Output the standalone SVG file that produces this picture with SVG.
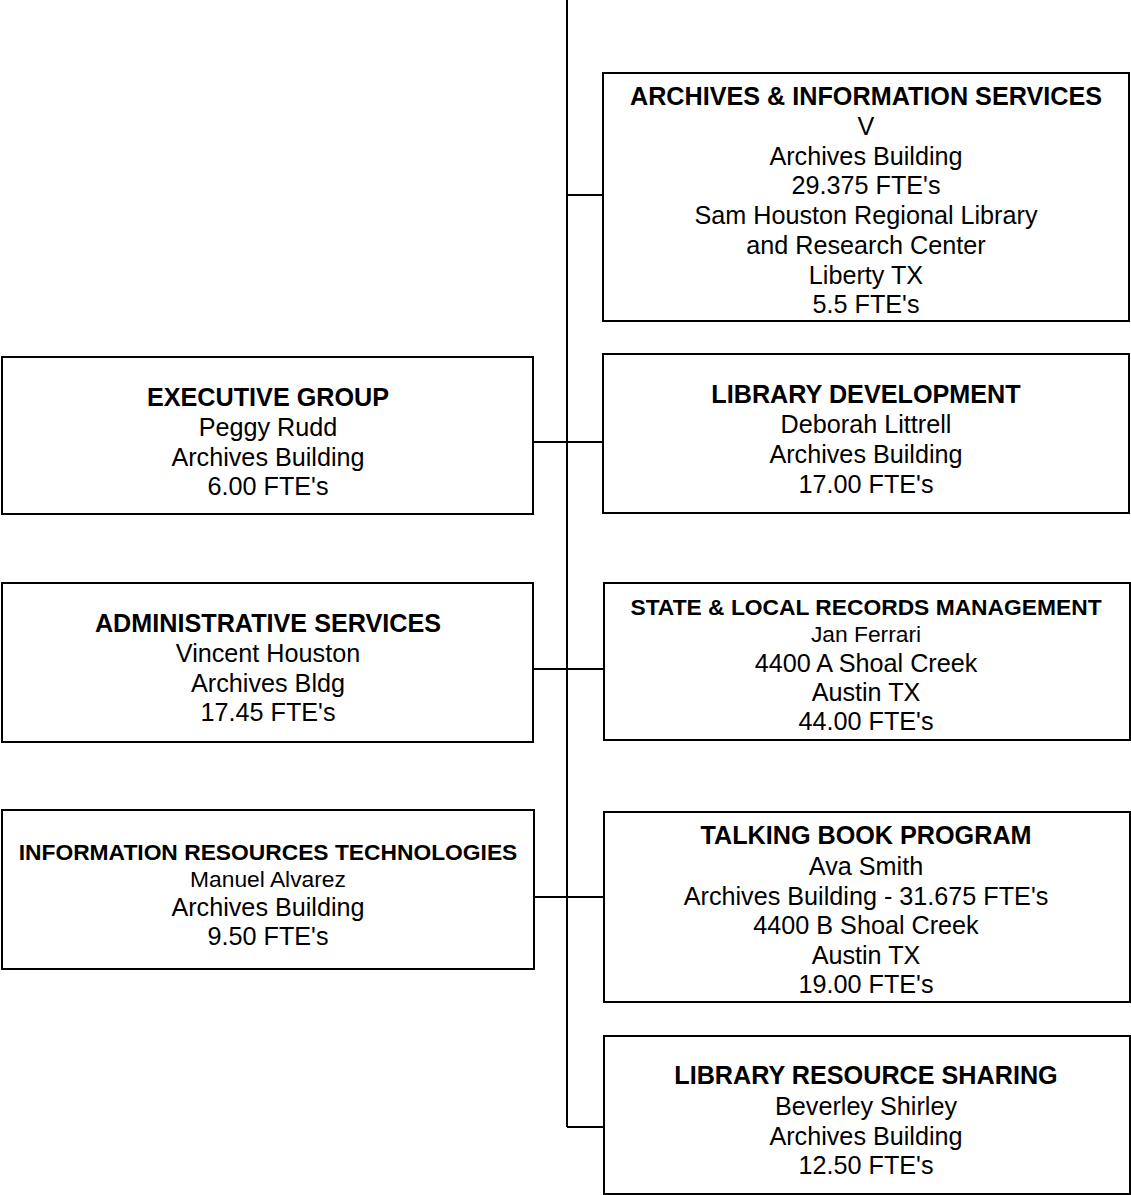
<svg xmlns="http://www.w3.org/2000/svg" width="1131" height="1195" viewBox="0 0 1131 1195">
<style>
.box{fill:#fff;stroke:#000;stroke-width:2}
.ln{stroke:#000;stroke-width:2;fill:none}
text{font-family:"Liberation Sans",Arial,sans-serif;fill:#000;text-anchor:middle;font-size:25.2px}
.h{font-weight:bold}
.s{font-size:22.8px}
</style>
<rect width="1131" height="1195" fill="#fff"/>
<g id="connectors">
<line class="ln" x1="567" y1="0" x2="567" y2="1127"/>
<line class="ln" x1="567" y1="195" x2="603" y2="195"/>
<line class="ln" x1="533" y1="442" x2="603" y2="442"/>
<line class="ln" x1="533" y1="669" x2="604" y2="669"/>
<line class="ln" x1="534" y1="897" x2="604" y2="897"/>
<line class="ln" x1="567" y1="1127" x2="604" y2="1127"/>
</g>
<g id="archives">
<rect class="box" x="603" y="73" width="526" height="248"/>
<text class="h" x="866" y="105">ARCHIVES &amp; INFORMATION SERVICES</text>
<text x="866" y="135">V</text>
<text x="866" y="165">Archives Building</text>
<text x="866" y="194">29.375 FTE's</text>
<text x="866" y="224">Sam Houston Regional Library</text>
<text x="866" y="254">and Research Center</text>
<text x="866" y="284">Liberty TX</text>
<text x="866" y="313">5.5 FTE's</text>
</g>
<g id="executive">
<rect class="box" x="2" y="357" width="531" height="157"/>
<text class="h" x="268" y="406">EXECUTIVE GROUP</text>
<text x="268" y="436">Peggy Rudd</text>
<text x="268" y="466">Archives Building</text>
<text x="268" y="495">6.00 FTE's</text>
</g>
<g id="libdev">
<rect class="box" x="603" y="354" width="526" height="159"/>
<text class="h" x="866" y="403">LIBRARY DEVELOPMENT</text>
<text x="866" y="433">Deborah Littrell</text>
<text x="866" y="463">Archives Building</text>
<text x="866" y="493">17.00 FTE's</text>
</g>
<g id="admin">
<rect class="box" x="2" y="583" width="531" height="159"/>
<text class="h" x="268" y="632">ADMINISTRATIVE SERVICES</text>
<text x="268" y="662">Vincent Houston</text>
<text x="268" y="692">Archives Bldg</text>
<text x="268" y="721">17.45 FTE's</text>
</g>
<g id="records">
<rect class="box" x="604" y="583" width="526" height="157"/>
<text class="h s" x="866" y="615">STATE &amp; LOCAL RECORDS MANAGEMENT</text>
<text class="s" x="866" y="642">Jan Ferrari</text>
<text x="866" y="672">4400 A Shoal Creek</text>
<text x="866" y="701">Austin TX</text>
<text x="866" y="730">44.00 FTE's</text>
</g>
<g id="irt">
<rect class="box" x="2" y="810" width="532" height="159"/>
<text class="h s" x="268" y="860">INFORMATION RESOURCES TECHNOLOGIES</text>
<text class="s" x="268" y="887">Manuel Alvarez</text>
<text x="268" y="916">Archives Building</text>
<text x="268" y="945">9.50 FTE's</text>
</g>
<g id="talking">
<rect class="box" x="604" y="812" width="526" height="190"/>
<text class="h" x="866" y="844">TALKING BOOK PROGRAM</text>
<text x="866" y="875">Ava Smith</text>
<text x="866" y="905">Archives Building - 31.675 FTE's</text>
<text x="866" y="934">4400 B Shoal Creek</text>
<text x="866" y="964">Austin TX</text>
<text x="866" y="993">19.00 FTE's</text>
</g>
<g id="sharing">
<rect class="box" x="604" y="1036" width="526" height="158"/>
<text class="h" x="866" y="1084">LIBRARY RESOURCE SHARING</text>
<text x="866" y="1115">Beverley Shirley</text>
<text x="866" y="1145">Archives Building</text>
<text x="866" y="1174">12.50 FTE's</text>
</g>
</svg>
